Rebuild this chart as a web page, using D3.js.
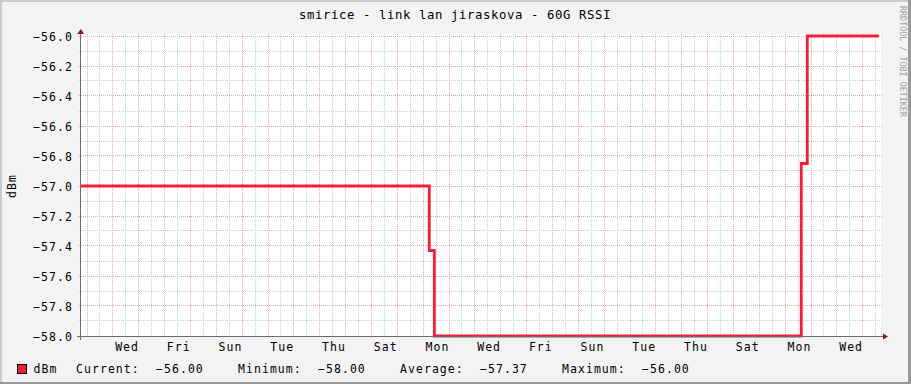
<!DOCTYPE html>
<html><head><meta charset="utf-8">
<script src="https://cdn.jsdelivr.net/npm/d3@7"></script>
<style>html,body{margin:0;padding:0;background:#f3f3f3;overflow:hidden}svg{display:block}</style>
</head><body><svg id="c" width="911" height="384"></svg>
<script>
// ---- data ----
const chartTitle = "smirice - link lan jiraskova - 60G RSSI";
const yAxisTitle = "dBm";
const watermark = "RRDTOOL / TOBI OETIKER";
const seriesName = "dBm";
const domainStart = "2024-01-01T18:25";
const domainEnd = "2024-02-01T16:55";
const sampleTimes = ["2024-01-01T18:25","2024-01-15T05:40","2024-01-15T10:20","2024-01-29T14:55","2024-01-29T20:30","2024-02-01T15:00"];
const rssiValues = [-57.0, -57.43, -58.0, -56.85, -56.0, -56.0];
const yTickValues = [-56.0,-56.2,-56.4,-56.6,-56.8,-57.0,-57.2,-57.4,-57.6,-57.8,-58.0];
const xLabelDays = ["2024-01-03","2024-01-05","2024-01-07","2024-01-09","2024-01-11","2024-01-13","2024-01-15","2024-01-17","2024-01-19","2024-01-21","2024-01-23","2024-01-25","2024-01-27","2024-01-29","2024-01-31"];
const legendLabels = ["Current:","Minimum:","Average:","Maximum:"];
const legendValues = [-56.00,-58.00,-57.37,-56.00];

// ---- styles ----
const W = 911, H = 384;
const plot = {left:81, right:881, top:36, bottom:336};
const font = "'DejaVu Sans Mono', monospace";
const lineColor = "#f0203c";

const parseT = d3.utcParse("%Y-%m-%dT%H:%M");
const parseD = d3.utcParse("%Y-%m-%d");
const t0 = parseT(domainStart), t1 = parseT(domainEnd);

const x = d3.scaleUtc().domain([t0, t1]).range([plot.left, plot.right]);
const y = d3.scaleLinear().domain([-58, -56]).range([plot.bottom, plot.top]);
const snap = v => Math.floor(v) + 0.5;

const svg = d3.select("#c");
// background + 3D border
svg.append("rect").attr("width", W).attr("height", H).attr("fill", "#f3f3f3");
svg.append("rect").attr("x",0).attr("y",0).attr("width",W).attr("height",2).attr("fill","#cbcbcb");
svg.append("rect").attr("x",0).attr("y",0).attr("width",2).attr("height",H).attr("fill","#cbcbcb");
svg.append("rect").attr("x",W-3).attr("y",0).attr("width",3).attr("height",H).attr("fill","#999999");
svg.append("rect").attr("x",0).attr("y",H-2).attr("width",W).attr("height",2).attr("fill","#999999");

// canvas
svg.append("rect").attr("x", plot.left).attr("y", plot.top - 2)
  .attr("width", plot.right - plot.left).attr("height", plot.bottom - plot.top + 2)
  .attr("fill", "#ffffff");

const grid = svg.append("g").attr("shape-rendering", "crispEdges");
const minorC = "#cfcfcf", majorC = "#f2a3a3";

// horizontal grid
const yMinor = y.ticks(20), yMajor = y.ticks(10);
const isMajorY = v => yMajor.some(m => Math.abs(m - v) < 1e-9);
grid.selectAll(".hmin").data(yMinor.filter(v => !isMajorY(v))).join("line")
  .attr("x1", plot.left - 2).attr("x2", plot.right + 2)
  .attr("y1", d => snap(y(d))).attr("y2", d => snap(y(d)))
  .attr("stroke", minorC).attr("stroke-dasharray", "1,1");
grid.selectAll(".hmaj").data(yMajor).join("line")
  .attr("x1", plot.left - 2).attr("x2", plot.right + 2)
  .attr("y1", d => snap(y(d))).attr("y2", d => snap(y(d)))
  .attr("stroke", majorC).attr("stroke-dasharray", "1,1");

// vertical grid
const xMajor = d3.utcDay.range(t0, t1);
const xMinor = d3.utcHour.every(12).range(t0, t1).filter(d => d.getUTCHours() !== 0);
grid.selectAll(".vmin").data(xMinor).join("line")
  .attr("x1", d => snap(x(d))).attr("x2", d => snap(x(d)))
  .attr("y1", plot.top - 2).attr("y2", plot.bottom + 2)
  .attr("stroke", minorC).attr("stroke-dasharray", "1,1");
grid.selectAll(".vmaj").data(xMajor).join("line")
  .attr("x1", d => snap(x(d))).attr("x2", d => snap(x(d)))
  .attr("y1", plot.top - 2).attr("y2", plot.bottom + 2)
  .attr("stroke", majorC).attr("stroke-dasharray", "1,1");

// data line
const pts = sampleTimes.map((t, i) => ({t: parseT(t), v: rssiValues[i]}));
svg.append("path").datum(pts)
  .attr("d", d3.line().x(d => x(d.t)).y(d => y(d.v)).curve(d3.curveStepAfter))
  .attr("fill", "none").attr("stroke", lineColor).attr("stroke-width", 2.8)
  .attr("stroke-linejoin", "miter").attr("stroke-linecap", "butt");

// axes
const ax = svg.append("g").attr("shape-rendering", "crispEdges");
ax.append("line").attr("x1", 77).attr("x2", 884).attr("y1", snap(plot.bottom)).attr("y2", snap(plot.bottom))
  .attr("stroke", "#6b6b6b");
ax.append("line").attr("x1", snap(plot.left - 1)).attr("x2", snap(plot.left - 1)).attr("y1", 33).attr("y2", 340)
  .attr("stroke", "#6b6b6b");
svg.append("path").attr("d", `M${plot.left - 4},34 L${plot.left},29 L${plot.left + 3},34 Z`).attr("fill", "#8b1a1a");
svg.append("path").attr("d", `M883,${plot.bottom - 2.5} L888,${plot.bottom + 0.5} L883,${plot.bottom + 3.5} Z`).attr("fill", "#8b1a1a");

// y labels
const txt = svg.append("g").attr("font-family", font).attr("fill", "#000");
const fmtY = d3.format(".1f");
txt.selectAll(".yl").data(yTickValues).join("text")
  .attr("x", 73).attr("y", d => y(d) + 4.6)
  .attr("text-anchor", "end").attr("font-size", "11.5px").attr("letter-spacing", "1.05px")
  .text(d => fmtY(d));

// x labels
const fmtDay = d3.utcFormat("%a");
txt.selectAll(".xl").data(xLabelDays.map(parseD)).join("text")
  .attr("x", d => x(d3.utcHour.offset(d, 12)) + 1.3).attr("y", 351)
  .attr("text-anchor", "middle").attr("font-size", "11.5px").attr("letter-spacing", "1.05px")
  .text(d => fmtDay(d));

// title
txt.append("text").attr("x", 455).attr("y", 19).attr("text-anchor", "middle")
  .attr("font-size", "12.3px").attr("letter-spacing", "0.6px").text(chartTitle);

// y axis title
txt.append("text").attr("transform", `translate(15.5,${(plot.top + plot.bottom) / 2}) rotate(-90)`)
  .attr("text-anchor", "middle").attr("font-size", "11.5px").attr("letter-spacing", "1.05px").text(yAxisTitle);

// watermark
svg.append("text").attr("transform", "translate(899.5,6) rotate(90)")
  .attr("font-family", font).attr("font-size", "8.4px").attr("fill", "#a0a0a0")
  .text(watermark);

// legend
svg.append("rect").attr("x", 17.5).attr("y", 364.5).attr("width", 9).attr("height", 9)
  .attr("fill", lineColor).attr("stroke", "#000").attr("shape-rendering", "crispEdges");
const fmtL = d3.format(".2f");
const lg = txt.append("g").attr("font-size", "11.5px").attr("letter-spacing", "1.05px");
lg.append("text").attr("x", 33.5).attr("y", 373).text(seriesName);
lg.selectAll(".ll").data(legendLabels).join("text")
  .attr("x", (d, i) => 76 + i * 162).attr("y", 373).text(d => d);
lg.selectAll(".lv").data(legendValues).join("text")
  .attr("x", (d, i) => 156 + i * 162).attr("y", 373).text(d => fmtL(d));
</script>
</body></html>
